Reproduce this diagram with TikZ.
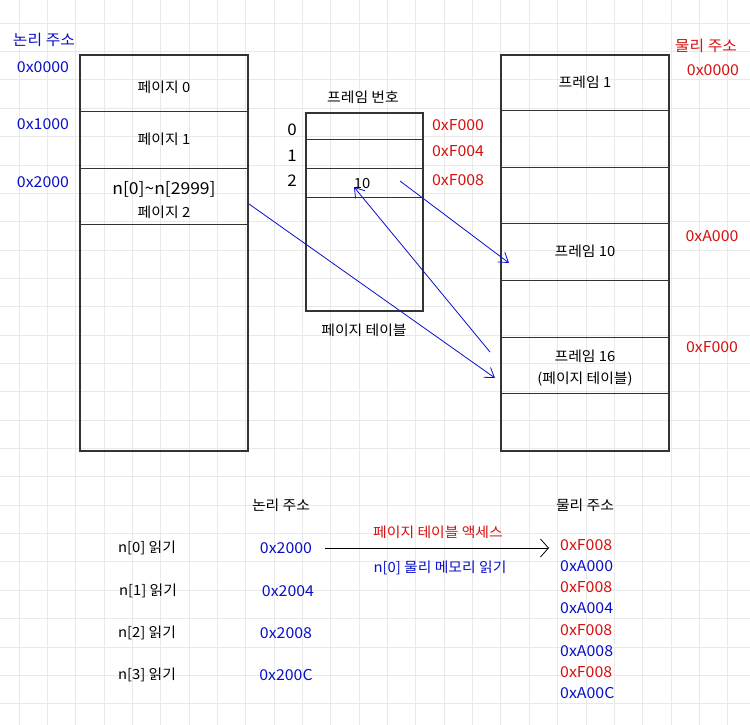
\documentclass[tikz,border=0pt]{standalone}
\usepackage{fontspec}
\setmainfont{Noto Sans CJK KR}[FakeStretch=1.06]
\usetikzlibrary{arrows.meta}
\definecolor{lblue}{HTML}{0A10C8}
\definecolor{lred}{HTML}{D81010}
\definecolor{gridc}{HTML}{E9E9E9}
\definecolor{boxc}{HTML}{333333}
\begin{document}
\begin{tikzpicture}[x=1pt,y=-1pt,
  txt/.style={font=\fontsize{14}{16}\selectfont, inner sep=0pt, text=black},
  hex/.style={font=\fontsize{15}{16}\selectfont, inner sep=0pt},
  bluet/.style={hex, text=lblue},
  redt/.style={hex, text=lred},
  outer/.style={draw=boxc, line width=1.4pt},
  row/.style={draw=boxc, line width=1pt},
  arr/.style={draw=lblue, line width=0.8pt, -{Straight Barb[length=9pt,width=12pt,line width=0.8pt]}},
  blk/.style={draw=black, line width=0.8pt, -{Straight Barb[length=8pt,width=18pt,line width=0.8pt]}}]
\useasboundingbox (0,0) rectangle (750,725);
\fill[white] (0,0) rectangle (750,725);
% grid
\foreach \i in {0,...,25} {\draw[gridc, line width=1pt] ({19+28.35*\i},0) -- ({19+28.35*\i},725);}
\foreach \j in {0,...,24} {\draw[gridc, line width=1pt] (0,{23.3+28.35*\j}) -- (750,{23.3+28.35*\j});}

% left box (logical memory)
\draw[outer] (80,55) rectangle (248,451);
\foreach \y in {111,168,224} {\draw[row] (80,\y) -- (248,\y);}
\node[bluet] (ltitle) at (44,40) {논리 주소};
\node[bluet] (l0) at (43,67) {0x0000};
\node[bluet] (l1) at (43,124) {0x1000};
\node[bluet] (l2) at (43,182) {0x2000};
\node[txt] (p0) at (164,87) {페이지 0};
\node[txt] (p1) at (164,139) {페이지 1};
\node[txt, font=\fontsize{16.5}{18}\selectfont] (parr) at (164,189) {n[0]\textasciitilde n[2999]};
\node[txt] (p2) at (164,212) {페이지 2};

% page table
\draw[outer] (306,113) rectangle (423,311);
\foreach \y in {139,168,197} {\draw[row] (306,\y) -- (423,\y);}
\node[txt] (ptitle) at (363,97) {프레임 번호};
\node[txt] (pname) at (364,330) {페이지 테이블};
\node[txt, font=\fontsize{16}{16}\selectfont] (i0) at (292,130) {0};
\node[txt, font=\fontsize{16}{16}\selectfont] (i1) at (292,156) {1};
\node[txt, font=\fontsize{16}{16}\selectfont] (i2) at (292,181) {2};
\node[txt] (ten) at (362,184) {10};
\node[redt] (f0) at (458,125) {0xF000};
\node[redt] (f4) at (458,151) {0xF004};
\node[redt] (f8) at (458,180) {0xF008};

% right box (physical memory)
\draw[outer] (501,55) rectangle (669,451);
\foreach \y in {110,167,223,280,337,393} {\draw[row] (501,\y) -- (669,\y);}
\node[txt] (fr1) at (585,82) {프레임 1};
\node[txt] (fr10) at (585,251) {프레임 10};
\node[txt] (fr16) at (585,356) {프레임 16};
\node[txt] (fr16b) at (585,379) {(페이지 테이블)};
\node[redt] (rtitle) at (706,46) {물리 주소};
\node[redt] (r0) at (713,70) {0x0000};
\node[redt] (rA) at (712,236) {0xA000};
\node[redt] (rF) at (712,347) {0xF000};

% arrows
\coordinate (a1s) at (249,204);
\coordinate (a1e) at (495,378);
\coordinate (a2s) at (490,352);
\coordinate (a2e) at (354,187);
\coordinate (a3s) at (400,181);
\coordinate (a3e) at (509,263);
\draw[arr] (a1s) -- (a1e);
\draw[arr] (a2s) -- (a2e);
\draw[arr] (a3s) -- (a3e);

% bottom table
\node[txt] (bl) at (281,505) {논리 주소};
\node[txt] (bp) at (585,505) {물리 주소};
\node[txt] (n0) at (147,548) {n[0] 읽기};
\node[txt] (n1) at (148,591) {n[1] 읽기};
\node[txt] (n2) at (147,633) {n[2] 읽기};
\node[txt] (n3) at (147,675) {n[3] 읽기};
\node[bluet] (v0) at (286,548) {0x2000};
\node[bluet] (v1) at (288,591) {0x2004};
\node[bluet] (v2) at (286,633) {0x2008};
\node[bluet] (v3) at (286,675) {0x200C};
\coordinate (bs) at (325,548);
\coordinate (be) at (549,548);
\draw[blk] (bs) -- (be);
\node[txt, text=lred] (acc) at (438,532) {페이지 테이블 액세스};
\node[txt, text=lblue] (rd) at (440,568) {n[0] 물리 메모리 읽기};
\node[redt, anchor=west] (q0) at (560,545) {0xF008};
\node[bluet, anchor=west] (q1) at (560,566) {0xA000};
\node[redt, anchor=west] (q2) at (560,587) {0xF008};
\node[bluet, anchor=west] (q3) at (560,608) {0xA004};
\node[redt, anchor=west] (q4) at (560,630) {0xF008};
\node[bluet, anchor=west] (q5) at (560,651) {0xA008};
\node[redt, anchor=west] (q6) at (560,672) {0xF008};
\node[bluet, anchor=west] (q7) at (560,693) {0xA00C};
\end{tikzpicture}
\end{document}
